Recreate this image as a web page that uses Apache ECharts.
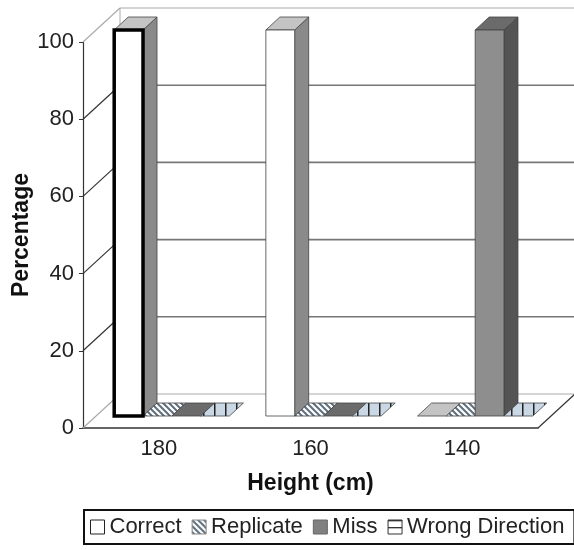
<!DOCTYPE html>
<html>
<head>
<meta charset="utf-8">
<script src="https://cdn.jsdelivr.net/npm/echarts@6/dist/echarts.min.js"></script>
<style>
  html, body { margin: 0; padding: 0; background: #fff; }
  #main { width: 574px; height: 550px; }
</style>
</head>
<body>
<div id="main"></div>
<script>
var categories = ['180', '160', '140'];
var correct = [100, 100, 0];
var replicate = [0, 0, 0];
var miss = [0, 0, 100];
var wrongDirection = [0, 0, 0];
var yTicks = [0, 20, 40, 60, 80, 100];

// fake 3d depth (px)
var WALL_DX = 37, WALL_DY = -34;
var FRONT_DX = 13, FRONT_DY = -12;
var BAR_DX = 14, BAR_DY = -13;
var BAR_FRAC = 0.19;
// the selected point (series, index) gets a heavy outline
var selected = [0, 0];

function stripes() {
  var c = document.createElement('canvas');
  c.width = 6; c.height = 6;
  var g = c.getContext('2d');
  g.fillStyle = '#fff';
  g.fillRect(0, 0, 6, 6);
  g.strokeStyle = '#5f6f7d';
  g.lineWidth = 2;
  g.beginPath();
  g.moveTo(-1, -1); g.lineTo(7, 7);
  g.moveTo(-1, 5); g.lineTo(1, 7);
  g.moveTo(5, -1); g.lineTo(7, 1);
  g.stroke();
  return { image: c, repeat: 'repeat' };
}

function vlines() {
  var c = document.createElement('canvas');
  c.width = 11; c.height = 4;
  var g = c.getContext('2d');
  g.fillStyle = '#c9d8e4';
  g.fillRect(0, 0, 11, 4);
  g.fillStyle = '#222';
  g.fillRect(5, 0, 1.5, 4);
  return { image: c, repeat: 'repeat' };
}

function hlineIcon() {
  var c = document.createElement('canvas');
  c.width = 14; c.height = 7;
  var g = c.getContext('2d');
  g.fillStyle = '#fff';
  g.fillRect(0, 0, 14, 7);
  g.fillStyle = '#333';
  g.fillRect(0, 0, 14, 1.3);
  return { image: c, repeat: 'repeat' };
}

var hatch = stripes();
var lined = vlines();

var looks = [
  { name: 'Correct', data: correct, front: '#ffffff', top: '#c4c4c4', side: '#8a8a8a' },
  { name: 'Replicate', data: replicate, front: hatch, top: hatch, side: '#6d7c88' },
  { name: 'Miss', data: miss, front: '#8e8e8e', top: '#6b6b6b', side: '#545454' },
  { name: 'Wrong Direction', data: wrongDirection, front: lined, top: lined, side: '#8aa0b0' }
];

function makeBar(s, st) {
  return function (params, api) {
    var cat = api.value(0), val = api.value(1);
    var p0 = api.coord([cat, 0]), p1 = api.coord([cat, val]);
    var bw = api.size([1, 0])[0] * BAR_FRAC;
    var x0 = p0[0] - 2 * bw + s * bw + FRONT_DX, x1 = x0 + bw;
    var yb = p0[1] + FRONT_DY, yt = p1[1] + FRONT_DY;
    var kids = [];
    if (yb - yt > 0.5) {
      kids.push({
        type: 'polygon',
        shape: { points: [[x1, yt], [x1 + BAR_DX, yt + BAR_DY], [x1 + BAR_DX, yb + BAR_DY], [x1, yb]] },
        style: { fill: st.side, stroke: '#444', lineWidth: 0.8 }
      });
      var sel = s === selected[0] && params.dataIndex === selected[1];
      kids.push({
        type: 'rect',
        shape: { x: x0, y: yt, width: bw, height: yb - yt },
        style: { fill: st.front, stroke: sel ? '#000' : '#444', lineWidth: sel ? 3.5 : 0.8 },
        z2: 2
      });
    }
    kids.push({
      type: 'polygon',
      shape: { points: [[x0, yt], [x1, yt], [x1 + BAR_DX, yt + BAR_DY], [x0 + BAR_DX, yt + BAR_DY]] },
      style: { fill: st.top, stroke: '#444', lineWidth: 0.8 }
    });
    return { type: 'group', children: kids };
  };
}

function frameItem(params, api) {
  var v = api.value(1);
  var c = api.coord([0, v]);
  var cw = api.size([1, 0])[0];
  var xl = c[0] - cw / 2, xr = xl + cw * categories.length, y = c[1];
  var edge = v === yTicks[0] || v === yTicks[yTicks.length - 1];
  var kids = [
    { type: 'line', shape: { x1: xl, y1: y, x2: xl + WALL_DX, y2: y + WALL_DY },
      style: { stroke: edge ? '#aaa' : '#333', lineWidth: 1.2 } },
    { type: 'line', shape: { x1: xl + WALL_DX, y1: y + WALL_DY, x2: xr + WALL_DX, y2: y + WALL_DY },
      style: { stroke: edge ? '#aaa' : '#777', lineWidth: edge ? 1 : 1.6 } }
  ];
  if (v === 0) {
    var yTop = api.coord([0, yTicks[yTicks.length - 1]])[1];
    kids.push({ type: 'line', shape: { x1: xl + WALL_DX, y1: y + WALL_DY, x2: xl + WALL_DX, y2: yTop + WALL_DY },
      style: { stroke: '#aaa', lineWidth: 1 } });
    kids.push({ type: 'line', shape: { x1: xr, y1: y, x2: xr + WALL_DX, y2: y + WALL_DY },
      style: { stroke: '#333', lineWidth: 1.2 } });
  }
  return { type: 'group', children: kids };
}

var chart = echarts.init(document.getElementById('main'));

var series = [{
  type: 'custom',
  name: 'frame',
  renderItem: frameItem,
  data: yTicks.map(function (v) { return [0, v]; }),
  silent: true,
  z: 1
}];
looks.forEach(function (st, s) {
  series.push({
    type: 'custom',
    name: st.name,
    renderItem: makeBar(s, st),
    data: st.data.map(function (v, i) { return [i, v]; }),
    z: 3
  });
});

var option = {
  animation: false,
  textStyle: { fontFamily: 'Liberation Sans, Arial, sans-serif' },
  grid: { left: 83, right: 36, top: 42, bottom: 122, containLabel: false, outerBoundsMode: 'none' },
  legend: {
    left: 84,
    top: 510,
    width: 600,
    padding: [6, 10, 6, 6],
    itemGap: 10,
    itemWidth: 14,
    itemHeight: 14,
    borderColor: '#111',
    borderWidth: 2,
    textStyle: { fontSize: 22, color: '#222' },
    data: [
      { name: 'Correct', icon: 'rect', itemStyle: { color: '#fff', borderColor: '#222', borderWidth: 1 } },
      { name: 'Replicate', icon: 'rect', itemStyle: { color: hatch, borderColor: '#888', borderWidth: 1 } },
      { name: 'Miss', icon: 'rect', itemStyle: { color: '#808080', borderColor: '#666', borderWidth: 1 } },
      { name: 'Wrong Direction', icon: 'rect', itemStyle: { color: hlineIcon(), borderColor: '#333', borderWidth: 1 } }
    ]
  },
  xAxis: {
    type: 'category',
    data: categories,
    name: 'Height (cm)',
    nameLocation: 'middle',
    nameGap: 44,
    nameMoveOverlap: false,
    nameTextStyle: { fontSize: 23, fontWeight: 'bold', color: '#111' },
    axisLine: { lineStyle: { color: '#333', width: 1.5 } },
    axisTick: { inside: true, length: 5, lineStyle: { color: '#333' } },
    axisLabel: { fontSize: 22, color: '#222', margin: 10 },
    splitLine: { show: false }
  },
  yAxis: {
    type: 'value',
    min: 0,
    max: 100,
    interval: 20,
    name: 'Percentage',
    nameLocation: 'middle',
    nameGap: 50,
    nameMoveOverlap: false,
    nameTextStyle: { fontSize: 23, fontWeight: 'bold', color: '#111' },
    axisLine: { show: true, lineStyle: { color: '#333', width: 1.2 } },
    axisTick: { show: true, length: 4, lineStyle: { color: '#333' } },
    axisLabel: { fontSize: 22, color: '#222', margin: 9 },
    splitLine: { show: false }
  },
  series: series
};

chart.setOption(option);
</script>
</body>
</html>
